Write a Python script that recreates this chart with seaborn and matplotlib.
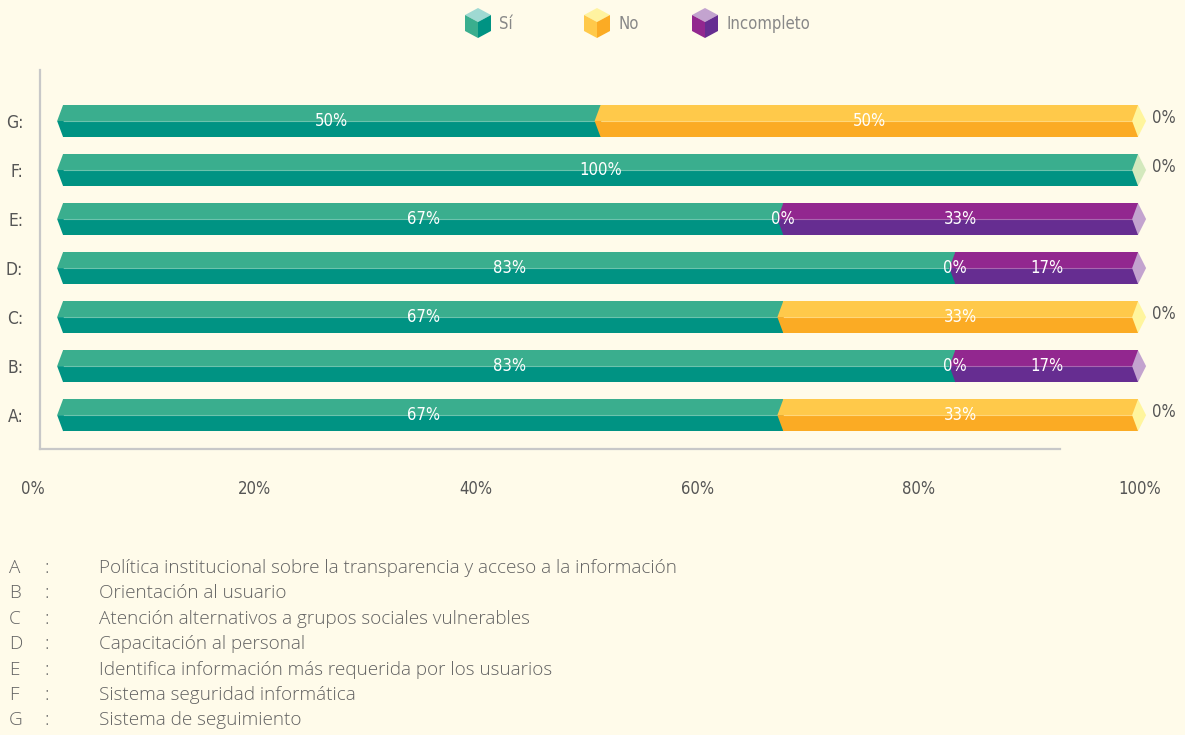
import numpy as np
import pandas as pd
import matplotlib
matplotlib.use("Agg")
import matplotlib.pyplot as plt
from matplotlib.patches import Polygon, Rectangle
import seaborn as sns

# datos
cats = ["G:", "F:", "E:", "D:", "C:", "B:", "A:"]
si = [50, 100, 67, 83, 67, 83, 67]
no = [50, 0, 0, 0, 33, 0, 33]
inc = [0, 0, 33, 17, 0, 17, 0]
series = ["Sí", "No", "Incompleto"]
tick_lbls = ["0%", "20%", "40%", "60%", "80%", "100%"]
letters = ["A", "B", "C", "D", "E", "F", "G"]
descs = [
    "Política institucional sobre la transparencia y acceso a la información",
    "Orientación al usuario",
    "Atención alternativos a grupos sociales vulnerables",
    "Capacitación al personal",
    "Identifica información más requerida por los usuarios",
    "Sistema seguridad informática",
    "Sistema de seguimiento",
]

BG = "#fffbea"
dark = {"Sí": "#009383", "No": "#fbab24", "Incompleto": "#662d91"}
light = {"Sí": "#3aae8e", "No": "#ffc94a", "Incompleto": "#92278f"}
seam = {"Sí": "#6cc3ad", "No": "#ffd77a", "Incompleto": "#a866b0"}
cap = {"Sí": "#d3e9bd", "No": "#fff59d", "Incompleto": "#c3a3cf"}
top_face = {"Sí": "#9fd9d2", "No": "#fff3a0", "Incompleto": "#c3a3cf"}

sns.set_theme(style="white")
plt.rcParams["font.family"] = ["DejaVu Sans"]
plt.rcParams["font.stretch"] = "condensed"

W, H = 1185, 735
fig = plt.figure(figsize=(W / 100, H / 100), dpi=100, facecolor=BG)
ax = fig.add_axes([28 / W, (H - 449) / H, (W - 28) / W, 379 / H])
ax.set_facecolor("none")

df = pd.DataFrame({"cat": cats, "Sí": si, "No": no, "Incompleto": inc})
cum = df[series].cumsum(axis=1)
cum["cat"] = cats

# barras apiladas: primero la mas larga
for s in reversed(series):
    sns.barplot(data=cum, x=s, y="cat", orient="h", color=dark[s],
                saturation=1, width=0.65, errorbar=None, linewidth=0,
                edgecolor="none", ax=ax, zorder=2)

d = 0.55  # punta del chevron
for i in range(len(cats)):
    p = ax.patches[i]
    y0, h = p.get_y(), p.get_height()
    ym = y0 + h / 2
    start = 0
    last = None
    for s in series:
        v = df[s][i]
        if v > 0:
            ax.add_patch(Rectangle((start, y0), v, h / 2, color=light[s], lw=0, zorder=3))
            ax.plot([start, start + v], [ym, ym], color=seam[s], lw=0.8, zorder=3.5)
            ax.add_patch(Polygon([(start, y0), (start - d, ym), (start + 0.05, ym), (start + 0.05, y0)],
                                 color=light[s], lw=0, zorder=4))
            ax.add_patch(Polygon([(start, y0 + h), (start - d, ym), (start + 0.05, ym), (start + 0.05, y0 + h)],
                                 color=dark[s], lw=0, zorder=4))
            last = s
        start += v
    ax.add_patch(Polygon([(start - d, ym), (start, y0), (start + 0.75, ym), (start, y0 + h)],
                         color=cap[last], lw=0, zorder=4))

    # etiquetas
    start = 0
    vals = [df[s][i] for s in series]
    trailing = False
    for k, s in enumerate(series):
        v = vals[k]
        if v > 0:
            ax.text(start + v / 2, ym, f"{v}%", color="white", fontsize=12,
                    ha="center", va="center", zorder=5)
        elif any(x > 0 for x in vals[k + 1:]):
            ax.text(start, ym, "0%", color="white", fontsize=12,
                    ha="center", va="center", zorder=5)
        else:
            trailing = True
        start += v
    if trailing:
        ax.text(102.4, ym - 0.06, "0%", color="#555555", fontsize=12,
                ha="center", va="center", zorder=5)

ax.set_xticks(np.linspace(-2.8, 100.2, 6))
ax.set_xticklabels(tick_lbls)
ax.set_xlim(-3.26, 104.37)
ax.set_ylim(6.69, -1.04)
ax.set_xlabel("")
ax.set_ylabel("")
ax.tick_params(axis="x", length=0, pad=22, labelsize=12, labelcolor="#555555")
ax.tick_params(axis="y", length=0, pad=12, labelsize=12.5, labelcolor="#555555")
for side in ["top", "right"]:
    ax.spines[side].set_visible(False)
for side in ["left", "bottom"]:
    ax.spines[side].set_color("#c8c8c8")
    ax.spines[side].set_linewidth(1.6)
spine_x = -2.14
ax.spines["left"].set_position(("data", spine_x))
ax.spines["bottom"].set_bounds(spine_x, 92.7)

# leyenda con cubos
def fx(px):
    return px / W

def fy(py):
    return 1 - py / H

leg_x = [478, 597, 705]
txt_x = [499, 619, 726]
cy = 23
for s, cx, tx in zip(series, leg_x, txt_x):
    top = (cx, cy - 15)
    ur, lr = (cx + 13, cy - 8), (cx + 13, cy + 8)
    bot = (cx, cy + 15)
    ll, ul = (cx - 13, cy + 8), (cx - 13, cy - 8)
    ctr = (cx, cy - 1)
    faces = [([top, ur, ctr, ul], top_face[s]),
             ([ul, ctr, bot, ll], light[s]),
             ([ctr, ur, lr, bot], dark[s])]
    for pts, c in faces:
        fig.patches.append(Polygon([(fx(a), fy(b)) for a, b in pts], closed=True,
                                   color=c, lw=0, transform=fig.transFigure))
    fig.text(fx(tx), fy(cy + 1), s, color="#888888", fontsize=12, va="center")

# definiciones
body = dict(color="#626262", fontsize=13.6, va="center", family=["Open Sans", "DejaVu Sans"],
            fontweight="light", fontstretch="normal")
for k, (l, t) in enumerate(zip(letters, descs)):
    yy = fy(568 + k * 25.4)
    fig.text(fx(9), yy, l, **body)
    fig.text(fx(45), yy, ":", **body)
    fig.text(fx(99), yy, t, **body)

fig.savefig("out.png", dpi=100, facecolor=BG)
